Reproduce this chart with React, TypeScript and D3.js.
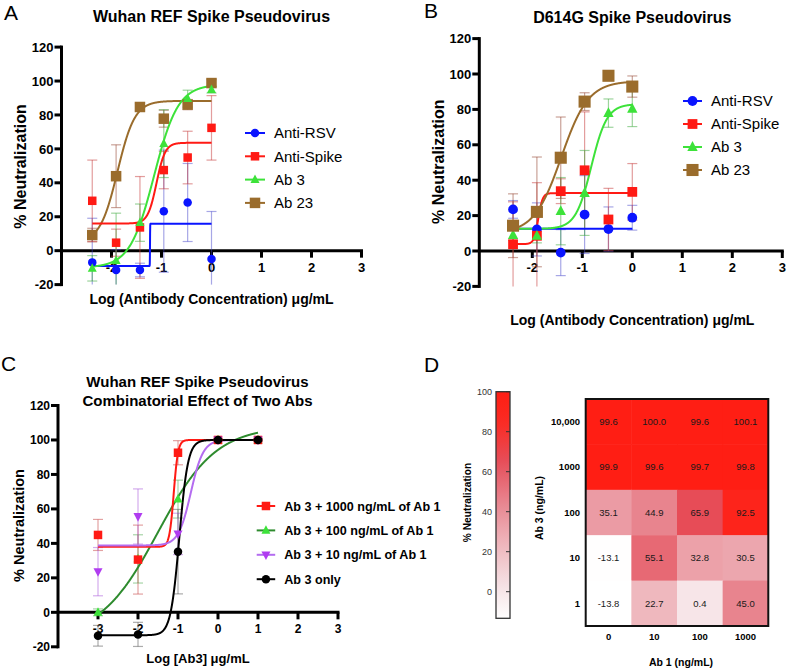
import React from 'react';
import * as d3 from 'd3';

const FONT = "'Liberation Sans', Arial, Helvetica, sans-serif";

// ---------- DATA ----------
const abLogConc = [-2.385, -1.908, -1.431, -0.954, -0.477, 0];
const abXTicks = [-2, -1, 0, 1, 2, 3];
const abYTicks = [-20, 0, 20, 40, 60, 80, 100, 120];

// Panel A (Wuhan REF)
const aAntiRSV = [-6.9, -11.4, -11.4, 23.3, 28.4, -4.9];
const aAntiRSVErr = [26, 12, 4, 36, 23, 28];
const aAntiSpike = [29.4, 4.7, 13.7, 47.5, 54.9, 72.4];
const aAntiSpikeErr = [24, 8, 30, 11, 15.5, 19];
const aAb3 = [-10.4, -5.9, 16.5, 63.1, 89.6, 94.9];
const aAb3Err = [7.5, 28, 11, 20, 5, 2];
const aAb23 = [9.2, 43.9, 84.7, 77.8, 86.1, 98.8];
const aAb23Err = [4, 18.5, 2, 5, 3, 2];
// 4PL fits: [bottom, top, logEC50, hill]
const aFitRSV = [-9.0, 15.9, -1.23, 300];
const aFitSpike = [16, 63.6, -1.1, 5];
const aFitAb3 = [-10, 98, -1.15, 1.8];
const aFitAb23 = [5, 88.3, -1.88, 2.5];

// Panel B (D614G)
const bAntiRSV = [23.5, 12.2, -0.9, 20.6, 12.4, 18.8];
const bAntiRSVErr = [5, 15, 13, 22, 12.5, 7];
const bAntiSpike = [3.8, 8.6, 33.8, 45.6, 17.8, 33.4];
const bAntiSpikeErr = [24, 30, 7, 33, 17.6, 16];
const bAb3 = [9, 8.6, 22.5, 32.8, 77.9, 80.3];
const bAb3Err = [3, 4, 19, 24, 8, 10];
const bAb23 = [14.3, 22.1, 52.7, 84.4, 99, 92.9];
const bAb23Err = [18, 31, 23, 5, 2, 6];
const bFitRSV = [12.6, 12.6, -1, 1];
const bFitSpike = [3.9, 32.7, -1.88, 10];
const bFitAb3 = [12.5, 83, -0.82, 2.77];
const bFitAb23 = [10, 96, -1.42, 1.6];

// Panel C (combination)
const cLogAb3 = [-3, -2, -1, 0, 1];
const cXTicks = [-3, -2, -1, 0, 1, 2, 3];
const c1000 = [44.9, 30.6, 92.6, 100, 100];
const c1000Err = [9, 20, 7, 0.5, 0.5];
const c100 = [0, 31, 65.7, 100, 100];
const c100Err = [2, 14, 11, 0.5, 0.5];
const c10 = [23.6, 55.6, 45.5, 100, 100];
const c10Err = [14, 16, 12, 0.5, 0.5];
const cOnly = [-13.6, -12.8, 35.2, 100, 100];
const cOnlyErr = [6, 7, 24.5, 0.5, 0.5];
const cFit1000 = [38, 100, -1.107, 8];
const cFit100 = [-15, 108, -1.5, 0.6];
const cFit10 = [38.8, 100, -0.68, 2.8];
const cFitOnly = [-13.3, 100, -0.967, 4];

// Panel D (heatmap)
const dAb1 = ['0', '10', '100', '1000'];
const dAb3 = ['10,000', '1000', '100', '10', '1'];
const dValues = [
  [99.6, 100.0, 99.6, 100.1],
  [99.9, 99.6, 99.7, 99.8],
  [35.1, 44.9, 65.9, 92.5],
  [-13.1, 55.1, 32.8, 30.5],
  [-13.8, 22.7, 0.4, 45.0],
];
const dColorTicks = [0, 20, 40, 60, 80, 100];

// ---------- helpers ----------
type Shape = 'circle' | 'square' | 'triUp' | 'triDown';
interface Series {
  name: string;
  y: number[];
  err: number[];
  fit: number[];
  color: string;
  lineColor: string;
  errColor: string;
  shape: Shape;
  size: number;
}

function fourPL(p: number[], x: number) {
  const [b, t, ec, h] = p;
  return b + (t - b) / (1 + Math.pow(10, (ec - x) * h));
}

function Marker({ shape, cx, cy, size, color }: { shape: Shape; cx: number; cy: number; size: number; color: string }) {
  if (shape === 'circle') return <circle cx={cx} cy={cy} r={size / 2} fill={color} />;
  if (shape === 'square') return <rect x={cx - size / 2} y={cy - size / 2} width={size} height={size} fill={color} />;
  const h = size * 0.95;
  if (shape === 'triUp')
    return <polygon points={`${cx},${cy - h * 0.6} ${cx - size / 2},${cy + h * 0.4} ${cx + size / 2},${cy + h * 0.4}`} fill={color} />;
  return <polygon points={`${cx},${cy + h * 0.6} ${cx - size / 2},${cy - h * 0.4} ${cx + size / 2},${cy - h * 0.4}`} fill={color} />;
}

interface PanelProps {
  xDomain: [number, number];
  xRange: [number, number];
  yRange: [number, number];
  xs: number[];
  xTicks: number[];
  series: Series[];
  tickFont: number;
  drawOrder?: number[];
}

function XYPanel({ xDomain, xRange, yRange, xs, xTicks, series, tickFont, drawOrder }: PanelProps) {
  const x = d3.scaleLinear().domain(xDomain).range(xRange);
  const y = d3.scaleLinear().domain([-20, 120]).range(yRange);
  const x0 = x(xDomain[0]);
  const yZero = y(0);
  const line = d3
    .line<[number, number]>()
    .x((d) => x(d[0]))
    .y((d) => y(d[1]));
  const order = drawOrder ?? series.map((_, i) => i);
  const xMin = xs[0];
  const xMax = xs[xs.length - 1];
  const N = 800;
  const clamp = (v: number) => Math.max(-20, Math.min(120, v));
  return (
    <g>
      {/* axes */}
      <line x1={x0} x2={x0} y1={y(-20) + 1.5} y2={y(120) - 1.5} stroke="#000" strokeWidth={3} />
      <line x1={x0} x2={x(xDomain[1]) + 1.5} y1={yZero} y2={yZero} stroke="#000" strokeWidth={3} />
      {abYTicks.map((t) => (
        <g key={'yt' + t}>
          <line x1={x0 - 7} x2={x0} y1={y(t)} y2={y(t)} stroke="#000" strokeWidth={3} />
          <text x={x0 - 8} y={y(t)} dy="0.36em" textAnchor="end" fontSize={tickFont} fontWeight="bold" fontFamily={FONT}>
            {t}
          </text>
        </g>
      ))}
      {xTicks.map((t) => (
        <g key={'xt' + t}>
          <line x1={x(t)} x2={x(t)} y1={yZero} y2={yZero + 7} stroke="#000" strokeWidth={3} />
          <text x={x(t)} y={yZero + 21} textAnchor="middle" fontSize={tickFont} fontWeight="bold" fontFamily={FONT}>
            {t}
          </text>
        </g>
      ))}
      {/* error bars */}
      {order.map((si) => {
        const s = series[si];
        return (
          <g key={'eb' + si} stroke={s.errColor} strokeWidth={1.2} fill="none">
            {xs.map((xv, i) => {
              const top = s.y[i] + s.err[i];
              const bot = s.y[i] - s.err[i];
              const cx = x(xv);
              return (
                <g key={i}>
                  <line x1={cx} x2={cx} y1={y(clamp(top))} y2={y(clamp(bot))} />
                  {top <= 120 && <line x1={cx - 5} x2={cx + 5} y1={y(top)} y2={y(top)} />}
                  {bot >= -20 && <line x1={cx - 5} x2={cx + 5} y1={y(bot)} y2={y(bot)} />}
                </g>
              );
            })}
          </g>
        );
      })}
      {/* fit curves */}
      {order.map((si) => {
        const s = series[si];
        const pts: [number, number][] = d3.range(N + 1).map((k) => {
          const xv = xMin + ((xMax - xMin) * k) / N;
          return [xv, fourPL(s.fit, xv)];
        });
        return <path key={'fit' + si} d={line(pts) ?? ''} fill="none" stroke={s.lineColor} strokeWidth={2} />;
      })}
      {/* markers */}
      {order.map((si) => {
        const s = series[si];
        return (
          <g key={'mk' + si}>
            {xs.map((xv, i) => (
              <Marker key={i} shape={s.shape} cx={x(xv)} cy={y(s.y[i])} size={s.size} color={s.color} />
            ))}
          </g>
        );
      })}
    </g>
  );
}

function Legend({ series, x, y0, dy, fontSize, bold, lineLen }: { series: Series[]; x: number; y0: number; dy: number; fontSize: number; bold: boolean; lineLen: number }) {
  return (
    <g>
      {series.map((s, i) => {
        const cy = y0 + i * dy;
        return (
          <g key={s.name}>
            <line x1={x} x2={x + lineLen} y1={cy} y2={cy} stroke={s.lineColor} strokeWidth={2} />
            <Marker shape={s.shape} cx={x + lineLen / 2} cy={cy} size={s.size} color={s.color} />
            <text x={x + lineLen + 9} y={cy} dy="0.36em" fontSize={fontSize} fontWeight={bold ? 'bold' : 'normal'} fontFamily={FONT}>
              {s.name}
            </text>
          </g>
        );
      })}
    </g>
  );
}

const BLUE = '#0a14ff';
const RED = '#ff1a14';
const GREEN = '#3de23a';
const BROWN = '#9a6c2c';

function mkAB(rsv: number[], rsvE: number[], sp: number[], spE: number[], a3: number[], a3E: number[], a23: number[], a23E: number[], f: number[][], big: boolean): Series[] {
  const k = big ? 1.15 : 1;
  return [
    { name: 'Anti-RSV', y: rsv, err: rsvE, fit: f[0], color: BLUE, lineColor: BLUE, errColor: 'rgba(60,60,200,0.45)', shape: 'circle', size: 8.5 * k },
    { name: 'Anti-Spike', y: sp, err: spE, fit: f[1], color: RED, lineColor: RED, errColor: 'rgba(200,60,60,0.5)', shape: 'square', size: 8.5 * k },
    { name: 'Ab 3', y: a3, err: a3E, fit: f[2], color: GREEN, lineColor: GREEN, errColor: 'rgba(60,170,60,0.5)', shape: 'triUp', size: 9 * k },
    { name: 'Ab 23', y: a23, err: a23E, fit: f[3], color: BROWN, lineColor: BROWN, errColor: 'rgba(150,70,50,0.5)', shape: 'square', size: 10.5 * k },
  ];
}

const seriesA = mkAB(aAntiRSV, aAntiRSVErr, aAntiSpike, aAntiSpikeErr, aAb3, aAb3Err, aAb23, aAb23Err, [aFitRSV, aFitSpike, aFitAb3, aFitAb23], false);
const seriesB = mkAB(bAntiRSV, bAntiRSVErr, bAntiSpike, bAntiSpikeErr, bAb3, bAb3Err, bAb23, bAb23Err, [bFitRSV, bFitSpike, bFitAb3, bFitAb23], true);

const seriesC: Series[] = [
  { name: 'Ab 3 + 1000 ng/mL of Ab 1', y: c1000, err: c1000Err, fit: cFit1000, color: RED, lineColor: RED, errColor: 'rgba(200,70,70,0.5)', shape: 'square', size: 8.5 },
  { name: 'Ab 3 + 100 ng/mL of Ab 1', y: c100, err: c100Err, fit: cFit100, color: GREEN, lineColor: '#2e8b2e', errColor: 'rgba(60,160,60,0.45)', shape: 'triUp', size: 9 },
  { name: 'Ab 3 + 10 ng/mL of Ab 1', y: c10, err: c10Err, fit: cFit10, color: '#b03cf0', lineColor: '#b46cf0', errColor: 'rgba(170,90,220,0.5)', shape: 'triDown', size: 9 },
  { name: 'Ab 3 only', y: cOnly, err: cOnlyErr, fit: cFitOnly, color: '#000', lineColor: '#000', errColor: 'rgba(90,90,90,0.5)', shape: 'circle', size: 8.5 },
];

// ---------- heatmap ----------
const heatColor = d3
  .scaleLinear<string>()
  .domain([-13.8, 5, 25, 45, 65, 85, 100])
  .range(['#ffffff', '#f4dde1', '#eeb3ba', '#e8848e', '#e64e5a', '#fb2a22', '#ff1e14'])
  .interpolate(d3.interpolateRgb)
  .clamp(true);

function Heatmap() {
  const x = d3.scaleBand<string>().domain(dAb1).range([585.7, 768.3]);
  const y = d3.scaleBand<string>().domain(dAb3).range([399, 626]);
  const cb = d3.scaleLinear().domain([-13.3, 100]).range([618.3, 391.7]);
  const stops = d3.range(0, 21).map((k) => -13.3 + (113.3 * k) / 20);
  return (
    <g fontFamily={FONT}>
      <defs>
        <linearGradient id="cbGrad" x1="0" y1="1" x2="0" y2="0">
          {stops.map((v, k) => (
            <stop key={k} offset={`${(k / 20) * 100}%`} stopColor={heatColor(v)} />
          ))}
        </linearGradient>
      </defs>
      <rect x={496} y={cb(100)} width={14} height={cb(-13.3) - cb(100)} fill="url(#cbGrad)" stroke="#333" strokeWidth={1.3} />
      {dColorTicks.map((t) => (
        <g key={t}>
          <line x1={506} x2={510} y1={cb(t)} y2={cb(t)} stroke="#333" strokeWidth={1} />
          <text x={492} y={cb(t)} dy="0.35em" textAnchor="end" fontSize={9} fill="#333">
            {t}
          </text>
        </g>
      ))}
      <text transform="translate(470.5,502.5) rotate(-90)" textAnchor="middle" fontSize={10.2} fontWeight="bold">
        % Neutralization
      </text>
      {dValues.map((row, ri) =>
        row.map((v, ci) => (
          <g key={ri + '-' + ci}>
            <rect x={x(dAb1[ci])} y={y(dAb3[ri])} width={x.bandwidth() + 0.5} height={y.bandwidth() + 0.5} fill={heatColor(v)} />
            <text x={(x(dAb1[ci]) ?? 0) + x.bandwidth() / 2} y={(y(dAb3[ri]) ?? 0) + y.bandwidth() / 2} dy="0.35em" textAnchor="middle" fontSize={9.5} fill="#1a1a1a">
              {v.toFixed(1)}
            </text>
          </g>
        ))
      )}
      <rect x={585.7} y={399} width={182.6} height={227} fill="none" stroke="#111" strokeWidth={2} />
      {dAb3.map((l) => (
        <text key={l} x={580} y={(y(l) ?? 0) + y.bandwidth() / 2} dy="0.35em" textAnchor="end" fontSize={9.5} fontWeight="bold">
          {l}
        </text>
      ))}
      {dAb1.map((l) => (
        <text key={l} x={(x(l) ?? 0) + x.bandwidth() / 2} y={640} textAnchor="middle" fontSize={9.5} fontWeight="bold">
          {l}
        </text>
      ))}
      <text x={681} y={666} textAnchor="middle" fontSize={10.5} fontWeight="bold">
        Ab 1 (ng/mL)
      </text>
      <text transform="translate(543,508) rotate(-90)" textAnchor="middle" fontSize={10.5} fontWeight="bold">
        Ab 3 (ng/mL)
      </text>
    </g>
  );
}

export default function App() {
  return (
    <svg width={787} height={671} style={{ position: 'absolute', left: 0, top: 0, background: '#fff' }} fontFamily={FONT}>
      <rect width={787} height={671} fill="#fff" />
      {/* Panel letters */}
      <text x={4} y={20} fontSize={21}>A</text>
      <text x={424} y={18} fontSize={21}>B</text>
      <text x={1} y={371} fontSize={21}>C</text>
      <text x={424} y={372} fontSize={21}>D</text>

      {/* Panel A */}
      <text x={211.5} y={21.5} textAnchor="middle" fontSize={16} fontWeight="bold">Wuhan REF Spike Pseudovirus</text>
      <XYPanel xDomain={[-3, 3]} xRange={[61.5, 361.5]} yRange={[284.6, 47.1]} xs={abLogConc} xTicks={abXTicks} series={seriesA} tickFont={13} drawOrder={[3, 0, 1, 2]} />
      <text transform="translate(26,166.5) rotate(-90)" textAnchor="middle" fontSize={16} fontWeight="bold">% Neutralization</text>
      <text x={211.5} y={304} textAnchor="middle" fontSize={14} fontWeight="bold">Log (Antibody Concentration) μg/mL</text>
      <Legend series={seriesA} x={245} y0={133} dy={23.3} fontSize={15} bold={false} lineLen={20} />

      {/* Panel B */}
      <text x={632.3} y={23.3} textAnchor="middle" fontSize={16} fontWeight="bold">D614G Spike Pseudovirus</text>
      <XYPanel xDomain={[-3.06, 3]} xRange={[479.3, 782.3]} yRange={[286.4, 38.6]} xs={abLogConc} xTicks={abXTicks} series={seriesB} tickFont={13} />
      <text transform="translate(444,161.7) rotate(-90)" textAnchor="middle" fontSize={16} fontWeight="bold">% Neutralization</text>
      <text x={632.3} y={325} textAnchor="middle" fontSize={14} fontWeight="bold">Log (Antibody Concentration) μg/mL</text>
      <Legend series={seriesB} x={683} y0={101} dy={23} fontSize={15} bold={false} lineLen={19} />

      {/* Panel C */}
      <text x={197.5} y={387} textAnchor="middle" fontSize={15} fontWeight="bold">Wuhan REF Spike Pseudovirus</text>
      <text x={197.5} y={405.5} textAnchor="middle" fontSize={15} fontWeight="bold">Combinatorial Effect of Two Abs</text>
      <XYPanel xDomain={[-4, 3]} xRange={[58, 338]} yRange={[646.8, 405.5]} xs={cLogAb3} xTicks={cXTicks} series={seriesC} tickFont={12} drawOrder={[1, 0, 2, 3]} />
      <text transform="translate(24,525.5) rotate(-90)" textAnchor="middle" fontSize={14.5} fontWeight="bold">% Neutralization</text>
      <text x={198} y={663} textAnchor="middle" fontSize={13} fontWeight="bold">Log [Ab3] μg/mL</text>
      <Legend series={seriesC} x={256.7} y0={506} dy={24.4} fontSize={12.6} bold={true} lineLen={18.5} />

      {/* Panel D */}
      <Heatmap />
    </svg>
  );
}
